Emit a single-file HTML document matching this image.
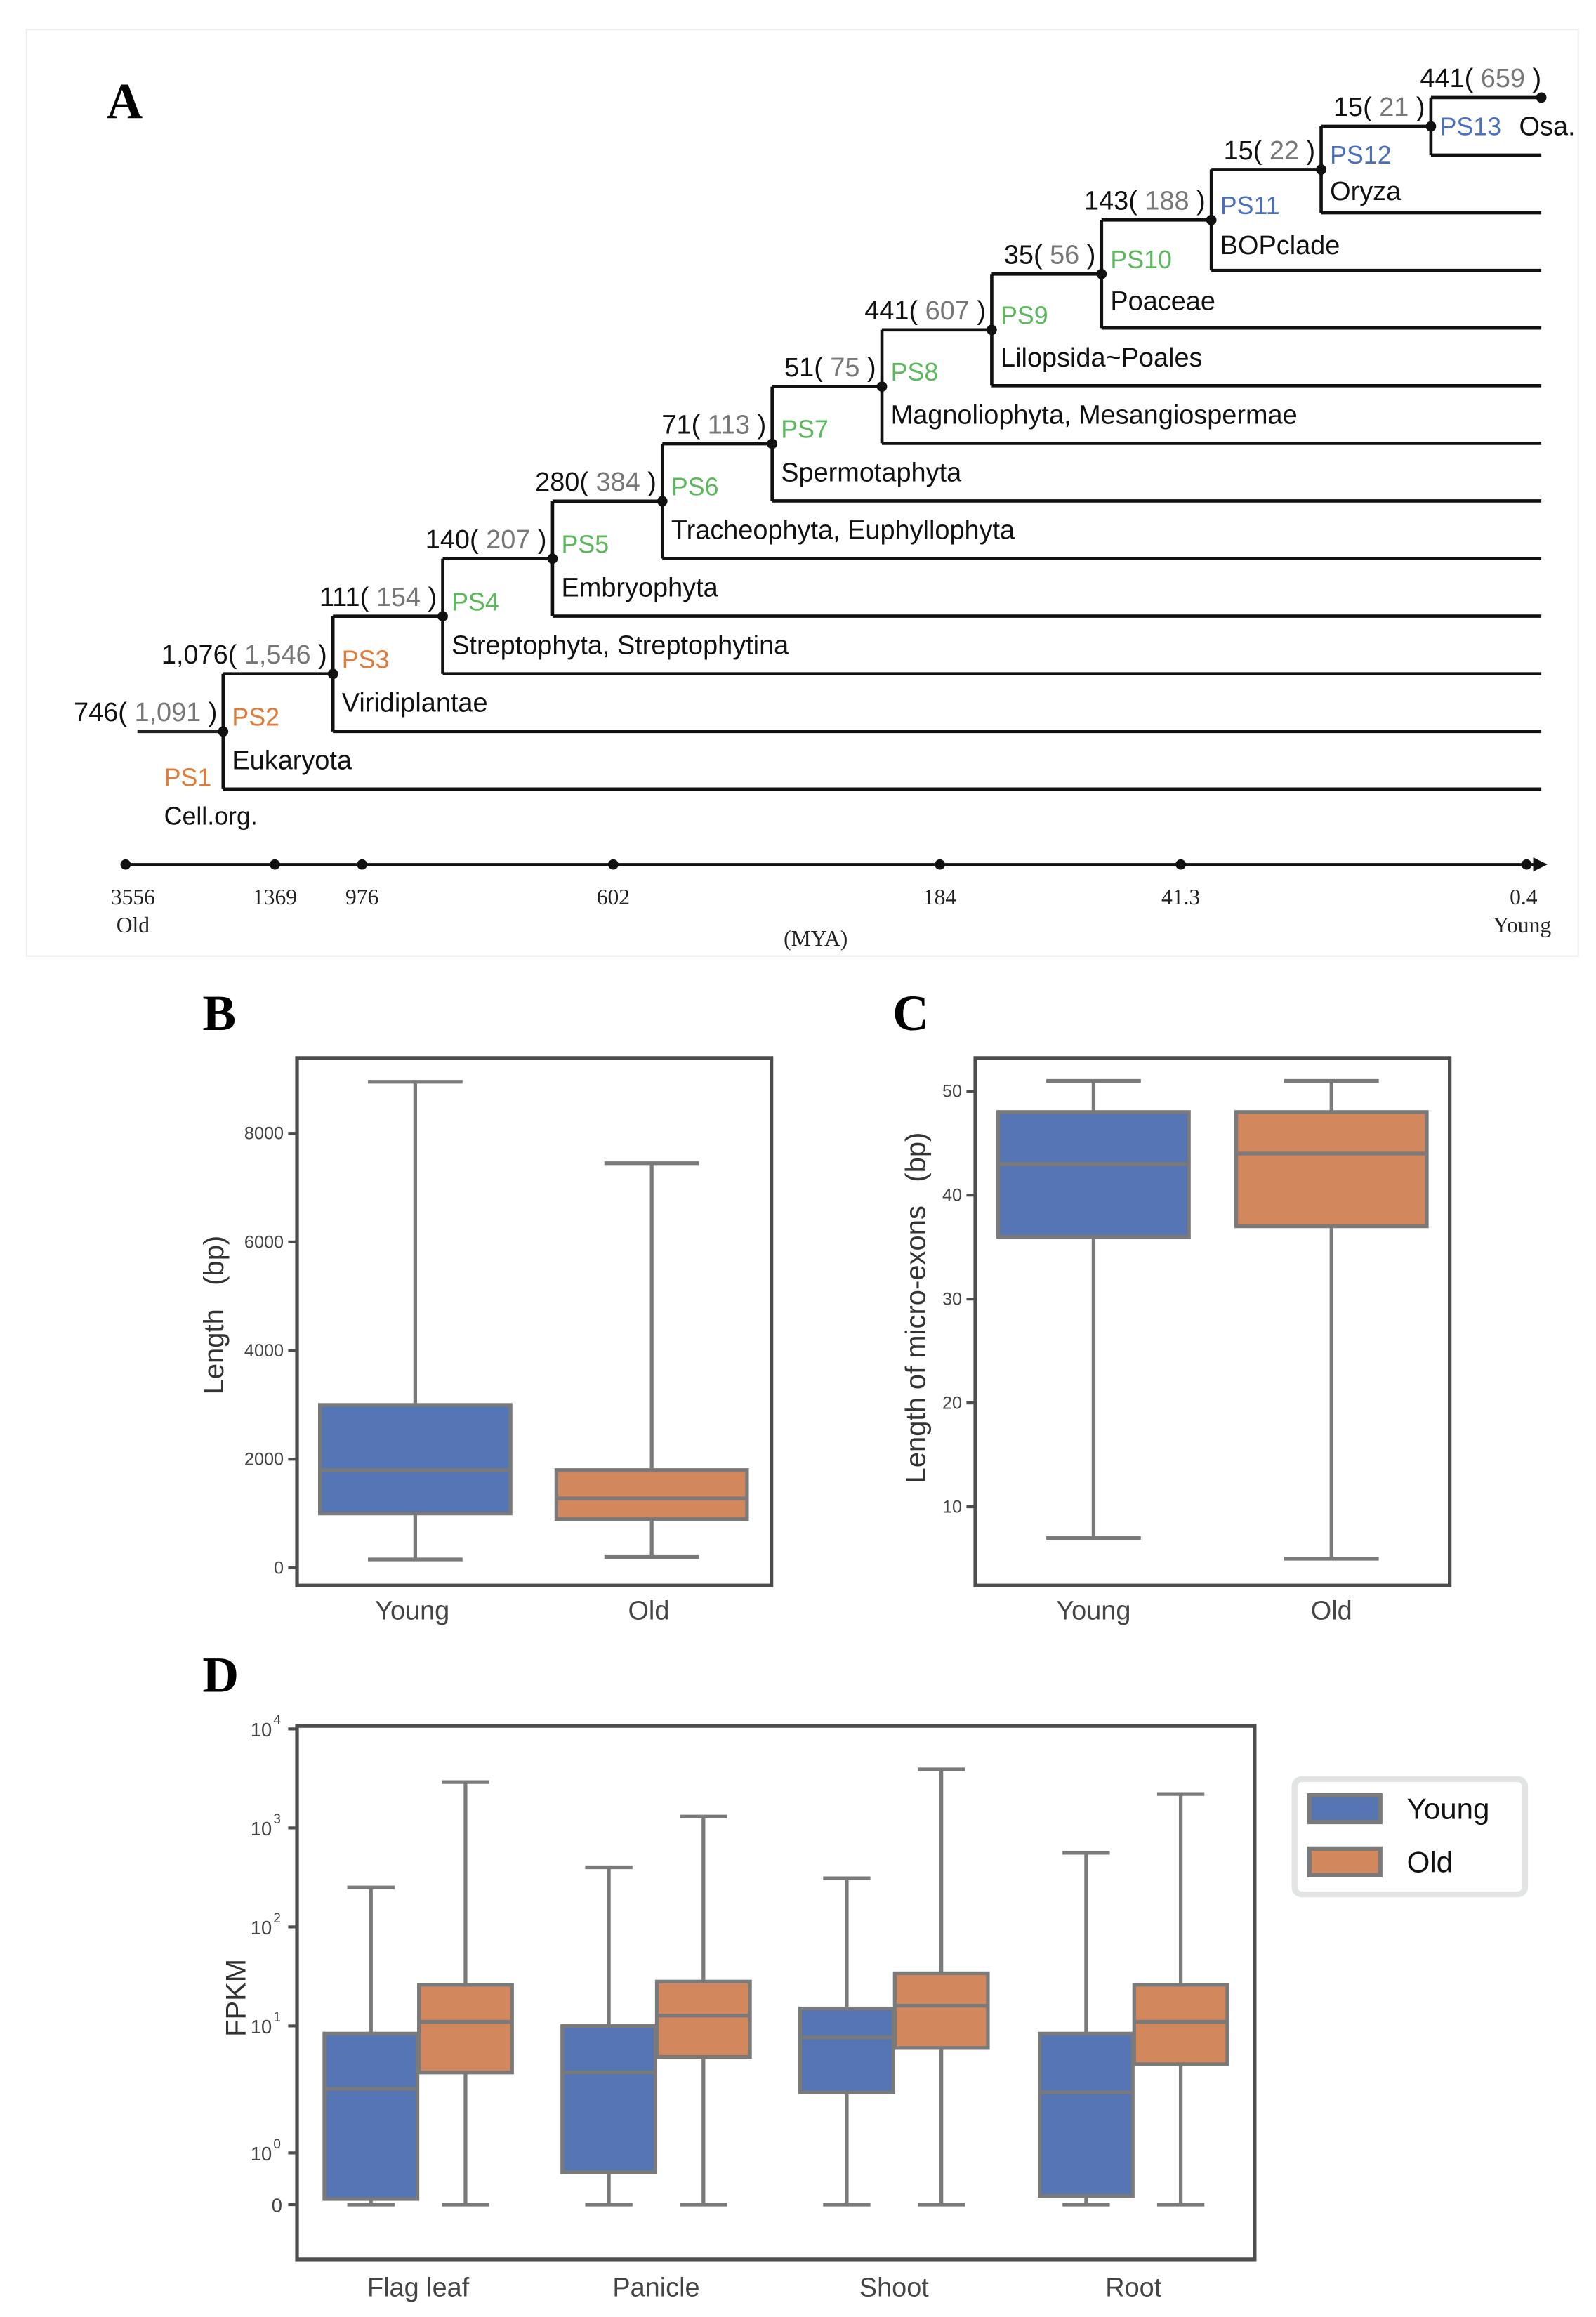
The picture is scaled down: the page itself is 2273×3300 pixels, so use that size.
<!DOCTYPE html>
<html><head><meta charset="utf-8">
<style>
html,body{margin:0;padding:0;background:#fff;}
svg{display:block;}
text{font-family:"Liberation Sans","Noto Sans CJK SC",sans-serif;}
.serif{font-family:"Liberation Serif",serif;}
</style></head>
<body>
<svg id="fig" width="2273" height="3300" viewBox="0 0 1080 1568" preserveAspectRatio="none" xmlns="http://www.w3.org/2000/svg">
<rect x="0" y="0" width="1080" height="1568" fill="#fff"/>
<rect x="18" y="20" width="1050" height="627" fill="none" stroke="#eee" stroke-width="1"/>
<text x="72" y="80" class="serif" font-size="34" font-weight="bold">A</text>
<text x="137" y="697" class="serif" font-size="34" font-weight="bold">B</text>
<text x="604" y="697" class="serif" font-size="34" font-weight="bold">C</text>
<text x="137" y="1145" class="serif" font-size="34" font-weight="bold">D</text>
<g id="tree"></g>
<g id="pB"></g>
<g id="pC"></g>
<g id="pD"></g>
</svg>
<script>
// ---- Panel A data ----
const psNames=["PS2","PS3","PS4","PS5","PS6","PS7","PS8","PS9","PS10","PS11","PS12","PS13"];
const psCounts=["746","1,076","111","140","280","71","51","441","35","143","15","15"];
const psTotals=["1,091","1,546","154","207","384","113","75","607","56","188","22","21"];
const psTaxa=["Eukaryota","Viridiplantae","Streptophyta, Streptophytina","Embryophyta","Tracheophyta, Euphyllophyta","Spermotaphyta","Magnoliophyta, Mesangiospermae","Lilopsida~Poales","Poaceae","BOPclade","Oryza","Osa."];
const leafCount="441", leafTotal="659";
const timeLabels=["3556","1369","976","602","184","41.3","0.4"];
// ---- Panel B data ----
const bCats=["Young","Old"];
const bTicks=[0,2000,4000,6000,8000];
const bLow=[155,200], bQ1=[1000,900], bMed=[1800,1280], bQ3=[3000,1800], bHigh=[8950,7450];
// ---- Panel C data ----
const cCats=["Young","Old"];
const cTicks=[10,20,30,40,50];
const cLow=[7,5], cQ1=[36,37], cMed=[43,44], cQ3=[48,48], cHigh=[51,51];
// ---- Panel D data ----
const dCats=["Flag leaf","Panicle","Shoot","Root"];
const dYoungLow=[0,0,0,0], dYoungQ1=[0.11,0.63,3,0.17], dYoungMed=[3.2,4.3,8.1,3], dYoungQ3=[8.7,10,15,8.7], dYoungHigh=[250,400,310,560];
const dOldLow=[0,0,0,0], dOldQ1=[4.3,5.7,6.7,5], dOldMed=[11,12.7,16,11], dOldQ3=[26,28,34,26], dOldHigh=[2900,1300,3900,2200];

const NS="http://www.w3.org/2000/svg";
function mk(parent,tag,attrs,txt){const e=document.createElementNS(NS,tag);for(const k in attrs)e.setAttribute(k,attrs[k]);if(txt!==undefined)e.textContent=txt;parent.appendChild(e);return e;}

const BLUE="#5575b4",ORANGE="#d3875c",EDGE="#7a7a7a",AX="#4d4d4d";
// ---- Tree ----
(function(){
 const g=document.getElementById('tree');
 const n=psNames.length;
 const x0=151,dx=74.3,yTop=66,dy=39.0,xEnd=1043;
 const psColor=i=>i<2?"#e07b39":(i<9?"#5cb85c":"#4a6fc0");
 const xs=[],bots=[],tops=[],dots=[];
 for(let i=0;i<n;i++){xs[i]=x0+dx*i;bots[i]=yTop+dy*(n-i);}
 let top=yTop;
 for(let i=n-1;i>=0;i--){tops[i]=top;dots[i]=(top+bots[i])/2;top=dots[i];}
 let l=mk(g,'line',{x1:xs[n-1],y1:yTop,x2:xEnd,y2:yTop,stroke:"#111","stroke-width":2.2});
 
 let c=mk(g,'circle',{cx:xEnd,cy:yTop,r:3.5,fill:"#111"});
 
 let tt=mk(g,'text',{x:xEnd,y:yTop-7,'font-size':18,'text-anchor':'end',fill:"#111"});
 
 mk(tt,'tspan',{},leafCount+"( ");mk(tt,'tspan',{fill:"#777"},leafTotal);mk(tt,'tspan',{}," )");
 l=mk(g,'line',{x1:93,y1:dots[0],x2:x0,y2:dots[0],stroke:"#222","stroke-width":2.2});
 
 let t=mk(g,'text',{x:111,y:532,'font-size':17,fill:"#e07b39"},"PS1");
 
 t=mk(g,'text',{x:111,y:558,'font-size':17,fill:"#111"},"Cell.org.");
 
 for(let i=0;i<n;i++){
  const x=xs[i], last=i===n-1;
  l=mk(g,'line',{x1:x,y1:tops[i],x2:x,y2:bots[i],stroke:"#111","stroke-width":2.2});
  
  l=mk(g,'line',{x1:x,y1:bots[i],x2:xEnd,y2:bots[i],stroke:"#111","stroke-width":2.2});
  
  if(i>0){l=mk(g,'line',{x1:xs[i-1],y1:dots[i],x2:x,y2:dots[i],stroke:"#111","stroke-width":2.2});
  }
  c=mk(g,'circle',{cx:x,cy:dots[i],r:3.5,fill:"#111"});
  
  tt=mk(g,'text',{x:x-4,y:dots[i]-7,'font-size':18,'text-anchor':'end',fill:"#111"});
  
  mk(tt,'tspan',{},psCounts[i]+"( ");mk(tt,'tspan',{fill:"#777"},psTotals[i]);mk(tt,'tspan',{}," )");
  t=mk(g,'text',{x:x+6,y:last?dots[i]+6:dots[i]-4,'font-size':17,fill:psColor(i)},psNames[i]);
  
  t=mk(g,'text',{x:last?1028:x+6,y:last?dots[i]+6:(dots[i]+bots[i])/2+6,'font-size':18,fill:"#111"},psTaxa[i]);
  
 }
 const tx=[85,186,245,415,636,799,1033];
 l=mk(g,'line',{x1:85,y1:585,x2:1040,y2:585,stroke:"#111","stroke-width":2});
 
 const ar=mk(g,'path',{d:"M1038 581 L1046 585 L1038 589 Z",fill:"#111",stroke:"#111","stroke-width":1});
 
 timeLabels.forEach((s,i)=>{
  const d=mk(g,'circle',{cx:tx[i],cy:585,r:3.5,fill:"#111"});
  
  const tl=mk(g,'text',{x:tx[i]+(i===0?5:(i===6?-2:0)),y:612,'font-size':15,'text-anchor':'middle',class:'serif',fill:"#222"},s);
  
 });
 t=mk(g,'text',{x:90,y:631,'font-size':15,'text-anchor':'middle',class:'serif',fill:"#222"},"Old");
 
 t=mk(g,'text',{x:1030,y:631,'font-size':15,'text-anchor':'middle',class:'serif',fill:"#222"},"Young");
 
 t=mk(g,'text',{x:552,y:640,'font-size':15,'text-anchor':'middle',class:'serif',fill:"#222"},"(MYA)");
 
})();

function drawBox(g,cx,w,y,lo,q1,md,q3,hi,fill,name,capw){
 let e=mk(g,'line',{x1:cx,y1:y(hi),x2:cx,y2:y(q3),stroke:EDGE,"stroke-width":2.5});
 
 e=mk(g,'line',{x1:cx,y1:y(q1),x2:cx,y2:y(lo),stroke:EDGE,"stroke-width":2.5});
 
 e=mk(g,'line',{x1:cx-capw/2,y1:y(hi),x2:cx+capw/2,y2:y(hi),stroke:EDGE,"stroke-width":2.5});
 
 e=mk(g,'line',{x1:cx-capw/2,y1:y(lo),x2:cx+capw/2,y2:y(lo),stroke:EDGE,"stroke-width":2.5});
 
 e=mk(g,'rect',{x:cx-w/2,y:y(q3),width:w,height:y(q1)-y(q3),fill:fill,stroke:EDGE,"stroke-width":2.5});
 
 e=mk(g,'line',{x1:cx-w/2,y1:y(md),x2:cx+w/2,y2:y(md),stroke:EDGE,"stroke-width":2.5});
 
}
function frame(g,x0,y0,x1,y1,name){
 const r=mk(g,'rect',{x:x0,y:y0,width:x1-x0,height:y1-y0,fill:"none",stroke:AX,"stroke-width":2.5});
 
}
// ---- Panel B ----
(function(){
 const g=document.getElementById('pB');
 const y=v=>1061-v*0.03675;
 frame(g,201,716,522,1073,'panel-b-axes');
 bTicks.forEach(v=>{
  let e=mk(g,'line',{x1:195,y1:y(v),x2:201,y2:y(v),stroke:AX,"stroke-width":2});
  
  e=mk(g,'text',{x:192,y:y(v)+4,'font-size':12,'text-anchor':'end',fill:"#444"},String(v));
  
 });
 const cxs=[281,441];
 bCats.forEach((c,i)=>{
  drawBox(g,cxs[i],129,y,bLow[i],bQ1[i],bMed[i],bQ3[i],bHigh[i],i?ORANGE:BLUE,'b-'+c.toLowerCase(),64);
  const e=mk(g,'text',{x:cxs[i]-2,y:1096,'font-size':18,'text-anchor':'middle',fill:"#444"},c);
  
 });
 const t=mk(g,'text',{x:0,y:0,'font-size':19,'text-anchor':'middle',fill:"#333",transform:"translate(151,890) rotate(-90)"},"Length\u00a0\u00a0\u00a0(bp)");
 
})();
// ---- Panel C ----
(function(){
 const g=document.getElementById('pC');
 const y=v=>1090-v*7.03;
 frame(g,660,716,981,1073,'panel-c-axes');
 cTicks.forEach(v=>{
  let e=mk(g,'line',{x1:654,y1:y(v),x2:660,y2:y(v),stroke:AX,"stroke-width":2});
  
  e=mk(g,'text',{x:651,y:y(v)+4,'font-size':12,'text-anchor':'end',fill:"#444"},String(v));
  
 });
 const cxs=[740,901];
 cCats.forEach((c,i)=>{
  drawBox(g,cxs[i],129,y,cLow[i],cQ1[i],cMed[i],cQ3[i],cHigh[i],i?ORANGE:BLUE,'c-'+c.toLowerCase(),64);
  const e=mk(g,'text',{x:cxs[i],y:1096,'font-size':18,'text-anchor':'middle',fill:"#444"},c);
  
 });
 const t=mk(g,'text',{x:0,y:0,'font-size':19,'text-anchor':'middle',fill:"#333",transform:"translate(626,885) rotate(-90)"},"Length of micro-exons\u00a0\u00a0\u00a0(bp)");
 
})();
// ---- Panel D ----
(function(){
 const g=document.getElementById('pD');
 const y=v=>{ if(v>=10) return 1371-67*Math.log10(v/10); if(v>=1) return 1457-86*Math.log10(v); return 1492-35*v; };
 frame(g,201,1168,849,1529,'panel-d-axes');
 const ticks=[[0,"0",""],[1,"10","0"],[10,"10","1"],[100,"10","2"],[1000,"10","3"],[10000,"10","4"]];
 ticks.forEach(tk=>{
  const yy=tk[0]===10000?1170:y(tk[0]);
  let e=mk(g,'line',{x1:195,y1:yy,x2:201,y2:yy,stroke:AX,"stroke-width":2});
  
  e=mk(g,'text',{x:tk[2]?184:191,y:yy+5,'font-size':13,'text-anchor':'end',fill:"#444"},tk[1]);
  
  if(tk[2]){e=mk(g,'text',{x:185,y:yy-3,'font-size':9,fill:"#444"},tk[2]);
  }
 });
 const centers=[283,444,605,767];
 dCats.forEach((c,i)=>{
  const n=c.toLowerCase().replace(' ','-');
  drawBox(g,centers[i]-32,63,y,dYoungLow[i],dYoungQ1[i],dYoungMed[i],dYoungQ3[i],dYoungHigh[i],BLUE,'d-'+n+'-young',32);
  drawBox(g,centers[i]+32,63,y,dOldLow[i],dOldQ1[i],dOldMed[i],dOldQ3[i],dOldHigh[i],ORANGE,'d-'+n+'-old',32);
  const e=mk(g,'text',{x:centers[i],y:1554,'font-size':18,'text-anchor':'middle',fill:"#444"},c);
  
 });
 let t=mk(g,'text',{x:0,y:0,'font-size':19,'text-anchor':'middle',fill:"#333",transform:"translate(166,1352) rotate(-90)"},"FPKM");
 
 const lg=mk(g,'g',{});
 
 let r=mk(lg,'rect',{x:876,y:1204,width:156,height:78,rx:5,fill:"#fff",stroke:"#e2e4e4","stroke-width":4});
 
 [["Young",BLUE,1215],["Old",ORANGE,1251]].forEach(L=>{
  let s=mk(lg,'rect',{x:886,y:L[2],width:48,height:18,fill:L[1],stroke:"#7a7a7a","stroke-width":3});
  
  s=mk(lg,'text',{x:952,y:L[2]+16,'font-size':20,fill:"#111"},L[0]);
  
 });
})();
</script>
</body></html>
